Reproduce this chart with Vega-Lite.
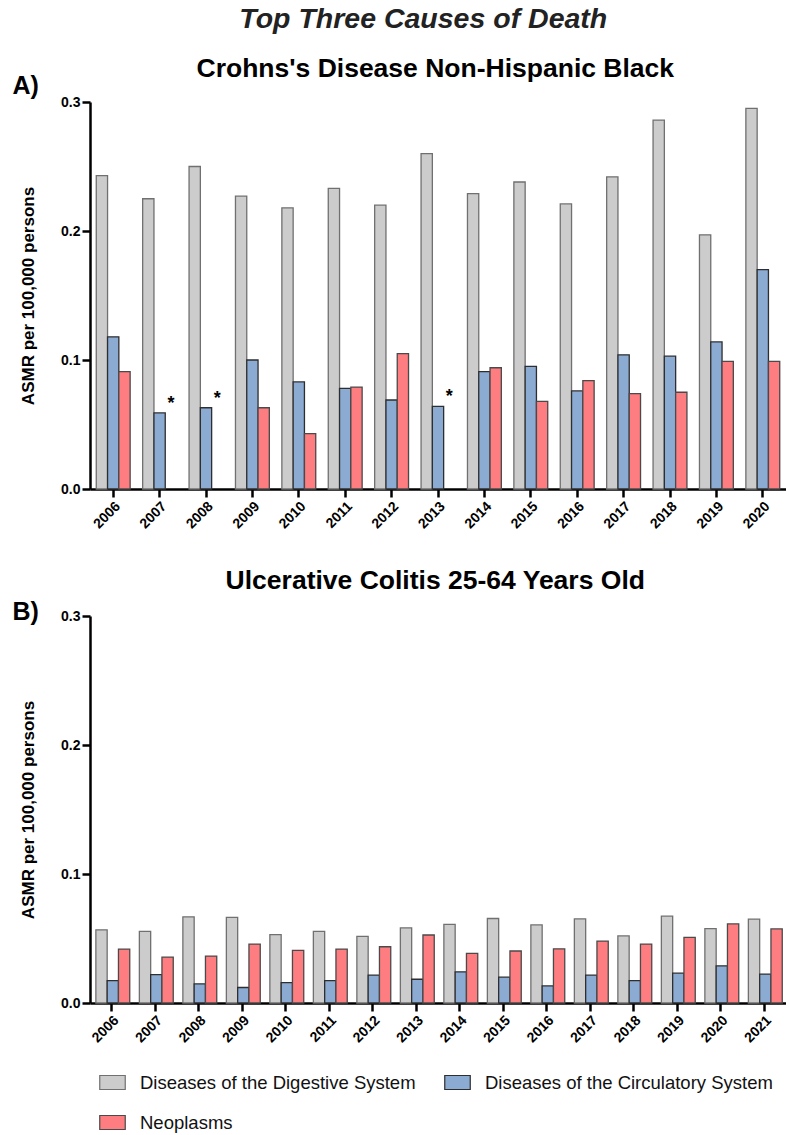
{
  "$schema": "https://vega.github.io/schema/vega-lite/v6.json",
  "padding": {"left": 12, "top": 5, "right": 0, "bottom": 0},
  "title": {"text": "Top Three Causes of Death", "fontSize": 28.5, "fontStyle": "italic", "fontWeight": "bold", "color": "#222222", "anchor": "middle", "dx": 24, "offset": 22.5},
  "datasets": {
    "crohns": [
      {"year": "2006", "cause": "Diseases of the Digestive System", "asmr": 0.243},
      {"year": "2006", "cause": "Diseases of the Circulatory System", "asmr": 0.118},
      {"year": "2006", "cause": "Neoplasms", "asmr": 0.091},
      {"year": "2007", "cause": "Diseases of the Digestive System", "asmr": 0.225},
      {"year": "2007", "cause": "Diseases of the Circulatory System", "asmr": 0.059},
      {"year": "2007", "cause": "Neoplasms", "asmr": null},
      {"year": "2008", "cause": "Diseases of the Digestive System", "asmr": 0.250},
      {"year": "2008", "cause": "Diseases of the Circulatory System", "asmr": 0.063},
      {"year": "2008", "cause": "Neoplasms", "asmr": null},
      {"year": "2009", "cause": "Diseases of the Digestive System", "asmr": 0.227},
      {"year": "2009", "cause": "Diseases of the Circulatory System", "asmr": 0.100},
      {"year": "2009", "cause": "Neoplasms", "asmr": 0.063},
      {"year": "2010", "cause": "Diseases of the Digestive System", "asmr": 0.218},
      {"year": "2010", "cause": "Diseases of the Circulatory System", "asmr": 0.083},
      {"year": "2010", "cause": "Neoplasms", "asmr": 0.043},
      {"year": "2011", "cause": "Diseases of the Digestive System", "asmr": 0.233},
      {"year": "2011", "cause": "Diseases of the Circulatory System", "asmr": 0.078},
      {"year": "2011", "cause": "Neoplasms", "asmr": 0.079},
      {"year": "2012", "cause": "Diseases of the Digestive System", "asmr": 0.220},
      {"year": "2012", "cause": "Diseases of the Circulatory System", "asmr": 0.069},
      {"year": "2012", "cause": "Neoplasms", "asmr": 0.105},
      {"year": "2013", "cause": "Diseases of the Digestive System", "asmr": 0.260},
      {"year": "2013", "cause": "Diseases of the Circulatory System", "asmr": 0.064},
      {"year": "2013", "cause": "Neoplasms", "asmr": null},
      {"year": "2014", "cause": "Diseases of the Digestive System", "asmr": 0.229},
      {"year": "2014", "cause": "Diseases of the Circulatory System", "asmr": 0.091},
      {"year": "2014", "cause": "Neoplasms", "asmr": 0.094},
      {"year": "2015", "cause": "Diseases of the Digestive System", "asmr": 0.238},
      {"year": "2015", "cause": "Diseases of the Circulatory System", "asmr": 0.095},
      {"year": "2015", "cause": "Neoplasms", "asmr": 0.068},
      {"year": "2016", "cause": "Diseases of the Digestive System", "asmr": 0.221},
      {"year": "2016", "cause": "Diseases of the Circulatory System", "asmr": 0.076},
      {"year": "2016", "cause": "Neoplasms", "asmr": 0.084},
      {"year": "2017", "cause": "Diseases of the Digestive System", "asmr": 0.242},
      {"year": "2017", "cause": "Diseases of the Circulatory System", "asmr": 0.104},
      {"year": "2017", "cause": "Neoplasms", "asmr": 0.074},
      {"year": "2018", "cause": "Diseases of the Digestive System", "asmr": 0.286},
      {"year": "2018", "cause": "Diseases of the Circulatory System", "asmr": 0.103},
      {"year": "2018", "cause": "Neoplasms", "asmr": 0.075},
      {"year": "2019", "cause": "Diseases of the Digestive System", "asmr": 0.197},
      {"year": "2019", "cause": "Diseases of the Circulatory System", "asmr": 0.114},
      {"year": "2019", "cause": "Neoplasms", "asmr": 0.099},
      {"year": "2020", "cause": "Diseases of the Digestive System", "asmr": 0.295},
      {"year": "2020", "cause": "Diseases of the Circulatory System", "asmr": 0.170},
      {"year": "2020", "cause": "Neoplasms", "asmr": 0.099}
    ],
    "uc": [
      {"year": "2006", "cause": "Diseases of the Digestive System", "asmr": 0.0567},
      {"year": "2006", "cause": "Diseases of the Circulatory System", "asmr": 0.0174},
      {"year": "2006", "cause": "Neoplasms", "asmr": 0.0418},
      {"year": "2007", "cause": "Diseases of the Digestive System", "asmr": 0.0556},
      {"year": "2007", "cause": "Diseases of the Circulatory System", "asmr": 0.0220},
      {"year": "2007", "cause": "Neoplasms", "asmr": 0.0356},
      {"year": "2008", "cause": "Diseases of the Digestive System", "asmr": 0.0668},
      {"year": "2008", "cause": "Diseases of the Circulatory System", "asmr": 0.0148},
      {"year": "2008", "cause": "Neoplasms", "asmr": 0.0364},
      {"year": "2009", "cause": "Diseases of the Digestive System", "asmr": 0.0663},
      {"year": "2009", "cause": "Diseases of the Circulatory System", "asmr": 0.0120},
      {"year": "2009", "cause": "Neoplasms", "asmr": 0.0457},
      {"year": "2010", "cause": "Diseases of the Digestive System", "asmr": 0.0530},
      {"year": "2010", "cause": "Diseases of the Circulatory System", "asmr": 0.0158},
      {"year": "2010", "cause": "Neoplasms", "asmr": 0.0408},
      {"year": "2011", "cause": "Diseases of the Digestive System", "asmr": 0.0556},
      {"year": "2011", "cause": "Diseases of the Circulatory System", "asmr": 0.0174},
      {"year": "2011", "cause": "Neoplasms", "asmr": 0.0418},
      {"year": "2012", "cause": "Diseases of the Digestive System", "asmr": 0.0517},
      {"year": "2012", "cause": "Diseases of the Circulatory System", "asmr": 0.0216},
      {"year": "2012", "cause": "Neoplasms", "asmr": 0.0436},
      {"year": "2013", "cause": "Diseases of the Digestive System", "asmr": 0.0582},
      {"year": "2013", "cause": "Diseases of the Circulatory System", "asmr": 0.0184},
      {"year": "2013", "cause": "Neoplasms", "asmr": 0.0527},
      {"year": "2014", "cause": "Diseases of the Digestive System", "asmr": 0.0610},
      {"year": "2014", "cause": "Diseases of the Circulatory System", "asmr": 0.0242},
      {"year": "2014", "cause": "Neoplasms", "asmr": 0.0384},
      {"year": "2015", "cause": "Diseases of the Digestive System", "asmr": 0.0655},
      {"year": "2015", "cause": "Diseases of the Circulatory System", "asmr": 0.0200},
      {"year": "2015", "cause": "Neoplasms", "asmr": 0.0403},
      {"year": "2016", "cause": "Diseases of the Digestive System", "asmr": 0.0605},
      {"year": "2016", "cause": "Diseases of the Circulatory System", "asmr": 0.0132},
      {"year": "2016", "cause": "Neoplasms", "asmr": 0.0420},
      {"year": "2017", "cause": "Diseases of the Digestive System", "asmr": 0.0652},
      {"year": "2017", "cause": "Diseases of the Circulatory System", "asmr": 0.0216},
      {"year": "2017", "cause": "Neoplasms", "asmr": 0.0480},
      {"year": "2018", "cause": "Diseases of the Digestive System", "asmr": 0.0520},
      {"year": "2018", "cause": "Diseases of the Circulatory System", "asmr": 0.0174},
      {"year": "2018", "cause": "Neoplasms", "asmr": 0.0457},
      {"year": "2019", "cause": "Diseases of the Digestive System", "asmr": 0.0673},
      {"year": "2019", "cause": "Diseases of the Circulatory System", "asmr": 0.0231},
      {"year": "2019", "cause": "Neoplasms", "asmr": 0.0509},
      {"year": "2020", "cause": "Diseases of the Digestive System", "asmr": 0.0577},
      {"year": "2020", "cause": "Diseases of the Circulatory System", "asmr": 0.0288},
      {"year": "2020", "cause": "Neoplasms", "asmr": 0.0613},
      {"year": "2021", "cause": "Diseases of the Digestive System", "asmr": 0.0650},
      {"year": "2021", "cause": "Diseases of the Circulatory System", "asmr": 0.0224},
      {"year": "2021", "cause": "Neoplasms", "asmr": 0.0574}
    ]
  },
  "spacing": 36,
  "vconcat": [
    {
      "title": {"text": "Crohns's Disease Non-Hispanic Black", "fontSize": 26.5, "anchor": "middle", "dx": 36, "offset": -8.5},
      "vconcat": [
        {
          "title": {"text": "A)", "anchor": "start", "frame": "bounds", "fontSize": 25, "dx": -7, "offset": -4},
          "width": 696,
          "height": 387,
          "data": {"name": "crohns"},
          "encoding": {
            "x": {"field": "year", "type": "ordinal", "title": null, "scale": {"paddingInner": 0.27, "paddingOuter": 0.135}, "axis": {"labelAngle": -45, "labelPadding": 2}}
          },
          "layer": [
            {
              "mark": {"type": "bar", "strokeWidth": 1.3},
              "encoding": {
                "xOffset": {"field": "cause", "type": "nominal", "scale": {"domain": ["Diseases of the Digestive System", "Diseases of the Circulatory System", "Neoplasms"], "paddingInner": 0, "paddingOuter": 0}},
                "y": {"field": "asmr", "type": "quantitative", "title": "ASMR per 100,000 persons", "scale": {"domain": [0, 0.3], "nice": false}, "axis": {"values": [0, 0.1, 0.2, 0.3], "format": ".1f", "titlePadding": 23}},
                "fill": {"field": "cause", "type": "nominal", "scale": {"domain": ["Diseases of the Digestive System", "Diseases of the Circulatory System", "Neoplasms"], "range": ["#cccccc", "#8cabd3", "#fe7d81"]}, "legend": {"title": null}},
                "stroke": {"field": "cause", "type": "nominal", "scale": {"domain": ["Diseases of the Digestive System", "Diseases of the Circulatory System", "Neoplasms"], "range": ["#707070", "#2e2e2e", "#4a4a4a"]}, "legend": null}
              }
            },
            {
              "transform": [
                {"pivot": "cause", "value": "asmr", "groupby": ["year"]},
                {"filter": "!(datum['Neoplasms'] > 0)"}
              ],
              "mark": {"type": "text", "fontSize": 18, "fontWeight": "bold", "baseline": "bottom", "color": "black"},
              "encoding": {
                "xOffset": {"datum": "Neoplasms"},
                "y": {"field": "Diseases of the Circulatory System", "type": "quantitative", "title": "ASMR per 100,000 persons"},
                "text": {"value": "*"}
              }
            }
          ]
        }
      ]
    },
    {
      "title": {"text": "Ulcerative Colitis 25-64 Years Old", "fontSize": 26.5, "anchor": "middle", "dx": 36, "offset": 6},
      "vconcat": [
        {
          "title": {"text": "B)", "anchor": "start", "frame": "bounds", "fontSize": 25, "dx": -7, "offset": -16},
          "width": 696,
          "height": 387,
          "data": {"name": "uc"},
          "mark": {"type": "bar", "strokeWidth": 1.3},
          "encoding": {
            "x": {"field": "year", "type": "ordinal", "title": null, "scale": {"paddingInner": 0.27, "paddingOuter": 0.135}, "axis": {"labelAngle": -45, "labelPadding": 2}},
            "xOffset": {"field": "cause", "type": "nominal", "scale": {"domain": ["Diseases of the Digestive System", "Diseases of the Circulatory System", "Neoplasms"], "paddingInner": 0, "paddingOuter": 0}},
            "y": {"field": "asmr", "type": "quantitative", "title": "ASMR per 100,000 persons", "scale": {"domain": [0, 0.3], "nice": false}, "axis": {"values": [0, 0.1, 0.2, 0.3], "format": ".1f", "titlePadding": 23}},
            "fill": {"field": "cause", "type": "nominal", "scale": {"domain": ["Diseases of the Digestive System", "Diseases of the Circulatory System", "Neoplasms"], "range": ["#cccccc", "#8cabd3", "#fe7d81"]}, "legend": {"title": null}},
            "stroke": {"field": "cause", "type": "nominal", "scale": {"domain": ["Diseases of the Digestive System", "Diseases of the Circulatory System", "Neoplasms"], "range": ["#707070", "#2e2e2e", "#4a4a4a"]}, "legend": null}
          }
        }
      ]
    }
  ],
  "config": {
    "font": "Liberation Sans",
    "view": {"stroke": null},
    "title": {"font": "Liberation Sans", "fontWeight": "bold", "color": "black"},
    "axis": {"domainColor": "black", "domainWidth": 2.5, "tickColor": "black", "tickWidth": 2.5, "tickSize": 8, "labelFont": "Liberation Sans", "labelFontWeight": "bold", "labelFontSize": 14, "labelColor": "black", "grid": false, "titleFont": "Liberation Sans", "titleFontWeight": "bold", "titleFontSize": 17, "titleColor": "black"},
    "legend": {"orient": "bottom", "direction": "horizontal", "columns": 2, "symbolType": "M-1,-0.55L1,-0.55L1,0.55L-1,0.55Z", "symbolSize": 650, "symbolStrokeColor": "#555555", "symbolStrokeWidth": 1.2, "labelFont": "Liberation Sans", "labelFontSize": 18.5, "labelColor": "#111111", "labelLimit": 500, "labelOffset": 14, "columnPadding": 26, "rowPadding": 17, "padding": 9, "offset": 15}
  }
}
